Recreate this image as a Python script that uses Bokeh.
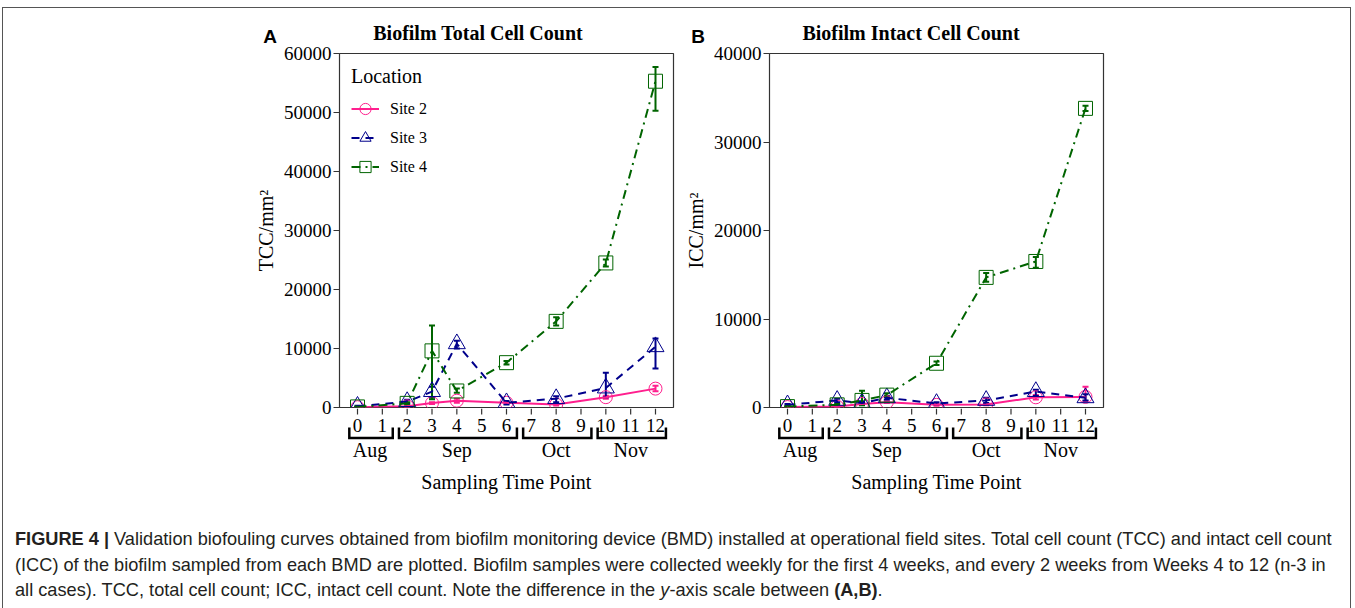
from bokeh.plotting import figure
from bokeh.models import (ColumnDataSource, Whisker, TeeHead, Legend, LegendItem,
                          FixedTicker, Range1d, Div, Spacer)
from bokeh.layouts import row, column
from bokeh.embed import file_html
from bokeh.resources import INLINE
from bokeh.core.properties import value

# ---------------- data ----------------
weeks = [0, 2, 3, 4, 6, 8, 10, 12]
tick_weeks = list(range(13))
months = ["Aug", "Sep", "Oct", "Nov"]
month_start = [0, 2, 7, 10]
month_end = [1, 6, 9, 12]
sites = ["Site 2", "Site 3", "Site 4"]

# Panel A: total cell count (TCC/mm2)
tcc_site2 = [50, 200, 750, 1150, 800, 500, 1750, 3200]
tcc_site2_lo = [0, 100, 600, 800, 650, 350, 1500, 2750]
tcc_site2_hi = [100, 300, 900, 1500, 950, 650, 2000, 3700]
tcc_site3 = [200, 1000, 2700, 10800, 800, 1500, 3300, 10300]
tcc_site3_lo = [100, 700, 1700, 10000, 500, 900, 1750, 6600]
tcc_site3_hi = [300, 1300, 3500, 11300, 1100, 1900, 5900, 11700]
tcc_site4 = [100, 700, 9600, 2800, 7600, 14600, 24500, 55300]
tcc_site4_lo = [50, 500, 1400, 2500, 7300, 13900, 23900, 50300]
tcc_site4_hi = [150, 900, 13900, 3200, 7900, 15300, 25100, 57700]

# Panel B: intact cell count (ICC/mm2)
icc_site2 = [50, 100, 400, 600, 300, 350, 1150, 1200]
icc_site2_lo = [0, 50, 300, 500, 200, 250, 900, 700]
icc_site2_hi = [100, 150, 500, 700, 400, 450, 1400, 2350]
icc_site3 = [300, 800, 500, 1100, 450, 800, 1800, 1100]
icc_site3_lo = [200, 600, 300, 900, 300, 500, 1300, 800]
icc_site3_hi = [400, 1000, 700, 1300, 600, 1100, 2000, 1500]
icc_site4 = [100, 300, 800, 1400, 5000, 14700, 16500, 33800]
icc_site4_lo = [50, 200, 250, 1200, 4800, 14200, 15800, 33500]
icc_site4_hi = [150, 400, 1900, 1600, 5200, 15200, 17000, 34100]

tcc_ticks = [0, 10000, 20000, 30000, 40000, 50000, 60000]
icc_ticks = [0, 10000, 20000, 30000, 40000]

# ---------------- styles ----------------
COLORS = {"Site 2": "#FF1F8E", "Site 3": "#00008B", "Site 4": "#006400"}
DASH = {"Site 2": "solid", "Site 3": "8 6", "Site 4": "9 5 2 5"}
MARKER = {"Site 2": "circle", "Site 3": "triangle", "Site 4": "square"}
MSIZE = {"Site 2": 13, "Site 3": 17, "Site 4": 14}
SERIF = "Liberation Serif"
FW, FH = 334, 354
TOP, BOT, STRIP, OVERLAP = 10, 12, 92, 11
HEAD_H = 25


def make_panel(vals, los, his, ymax, yticks, ylabel, lb, rb, legend):
    W = lb + FW + rb
    p = figure(width=W, height=TOP + FH + BOT,
               x_range=Range1d(-0.725, 12.725), y_range=Range1d(0, ymax),
               output_backend="svg", toolbar_location=None,
               x_axis_location=None,
               min_border_left=lb, min_border_right=rb,
               min_border_top=TOP, min_border_bottom=BOT,
               background_fill_color="white", border_fill_color="white")
    p.xgrid.visible = False
    p.ygrid.visible = False
    p.outline_line_color = "#333333"
    p.outline_line_width = 1.2

    ya = p.yaxis[0]
    ya.ticker = FixedTicker(ticks=yticks)
    ya.axis_line_color = None
    ya.major_tick_out = 6
    ya.major_tick_in = 0
    ya.major_tick_line_color = "#333333"
    ya.minor_tick_line_color = None
    ya.major_label_text_font = SERIF
    ya.major_label_text_font_size = "19px"
    ya.major_label_text_color = "black"
    ya.major_label_standoff = 2
    ya.axis_label = ylabel
    ya.axis_label_text_font = SERIF
    ya.axis_label_text_font_size = "20px"
    ya.axis_label_text_font_style = "normal"
    ya.axis_label_text_color = "black"
    ya.axis_label_standoff = 4

    items = []
    for s, v, lo, hi in zip(sites, vals, los, his):
        src = ColumnDataSource(dict(x=weeks, y=v, lo=lo, hi=hi))
        c = COLORS[s]
        lr = p.line("x", "y", source=src, line_color=c, line_width=2,
                    line_dash=DASH[s])
        w = Whisker(base="x", lower="lo", upper="hi", source=src,
                    dimension="height", line_color=c, line_width=2,
                    lower_head=TeeHead(size=6, line_color=c, line_width=2),
                    upper_head=TeeHead(size=6, line_color=c, line_width=2))
        p.add_layout(w)
        sr = p.scatter("x", "y", source=src, marker=MARKER[s], size=MSIZE[s],
                       fill_color=None, line_color=c, line_width=1)
        items.append(LegendItem(label=s, renderers=[lr, sr]))

    if legend:
        lg = Legend(items=items, location="top_left", title="Location",
                    title_text_font=SERIF, title_text_font_size="20px",
                    title_text_font_style="normal", title_text_color="black",
                    title_standoff=6,
                    label_text_font=SERIF, label_text_font_size="16px",
                    label_text_color="black", label_standoff=11,
                    glyph_width=28, glyph_height=29, label_height=29,
                    spacing=0, padding=13, margin=12,
                    border_line_color=None, background_fill_alpha=0)
        p.add_layout(lg, "center")

    # ---- strip below (overlaps the bottom border of p): ticks, weeks, months, title
    b = figure(width=W, height=STRIP, x_range=p.x_range,
               y_range=Range1d(0, STRIP), output_backend="svg",
               toolbar_location=None, x_axis_location=None,
               y_axis_location=None, min_border_left=lb,
               min_border_right=rb, min_border_top=0, min_border_bottom=0,
               background_fill_alpha=0, border_fill_alpha=0,
               styles={"margin-top": "-%dpx" % OVERLAP})
    b.xgrid.visible = False
    b.ygrid.visible = False
    b.outline_line_color = None
    b.segment(x0=tick_weeks, y0=[STRIP] * 13, x1=tick_weeks, y1=[STRIP - 6] * 13,
              line_color="#333333", line_width=1.2)
    b.text(x=tick_weeks, y=[75] * len(tick_weeks), text=[str(t) for t in tick_weeks],
           text_align="center", text_baseline="middle", text_font=value(SERIF),
           text_font_size="19px", text_color="black")
    xs = [[s - 0.33, s - 0.33, e + 0.42, e + 0.42] for s, e in zip(month_start, month_end)]
    ys = [[73, 62.5, 62.5, 73] for _ in months]
    b.multi_line(xs=xs, ys=ys, line_color="black", line_width=2.5, line_join="miter")
    b.text(x=[(s + e) / 2 for s, e in zip(month_start, month_end)], y=[51] * len(months),
           text=months, text_align="center", text_baseline="middle",
           text_font=value(SERIF), text_font_size="20px", text_color="black")
    b.text(x=[6], y=[19], text=["Sampling Time Point"], text_align="center",
           text_baseline="middle", text_font=value(SERIF), text_font_size="20px",
           text_color="black")
    return column(p, b, spacing=0)


panel_a = make_panel([tcc_site2, tcc_site3, tcc_site4],
                     [tcc_site2_lo, tcc_site3_lo, tcc_site4_lo],
                     [tcc_site2_hi, tcc_site3_hi, tcc_site4_hi],
                     60000, tcc_ticks, "TCC/mm²", 100, 2, True)
panel_b = make_panel([icc_site2, icc_site3, icc_site4],
                     [icc_site2_lo, icc_site3_lo, icc_site4_lo],
                     [icc_site2_hi, icc_site3_hi, icc_site4_hi],
                     40000, icc_ticks, "ICC/mm²", 94, 5, False)


def head(text, left, top, width, font, size):
    return ('<div style="position:absolute;left:%dpx;top:%dpx;width:%dpx;'
            'text-align:center;font-family:%s;font-weight:bold;font-size:%dpx;'
            'line-height:%dpx;color:black;white-space:nowrap;">%s</div>'
            % (left, top, width, font, size, size, text))


header_html = (
    '<div style="position:relative;width:1100px;height:%dpx;">' % HEAD_H
    + head("A", 247, 14, 30, "'Liberation Sans',Arial,sans-serif", 19)
    + head("Biofilm Total Cell Count", 270, 10, 400, "'Liberation Serif',serif", 20)
    + head("B", 675, 14, 30, "'Liberation Sans',Arial,sans-serif", 19)
    + head("Biofilm Intact Cell Count", 703, 10, 400, "'Liberation Serif',serif", 20)
    + '</div>'
)
header = Div(text=header_html, width=1100, height=HEAD_H)

caption_html = (
    '<div style="font-family:\'Liberation Sans\',Arial,sans-serif;'
    'font-size:18.2px;line-height:25.5px;color:#231f20;padding-top:22px;padding-left:7px;'
    'white-space:nowrap;">'
    '<div><b>FIGURE 4 |</b> Validation biofouling curves obtained from biofilm monitoring '
    'device (BMD) installed at operational field sites. Total cell count (TCC) and intact cell count</div>'
    '<div>(ICC) of the biofilm sampled from each BMD are plotted. Biofilm samples were collected '
    'weekly for the first 4 weeks, and every 2 weeks from Weeks 4 to 12 (n-3 in</div>'
    '<div>all cases). TCC, total cell count; ICC, intact cell count. Note the difference in the '
    '<i>y</i>-axis scale between <b>(A,B)</b>.</div>'
    '</div>'
)
caption = Div(text=caption_html, width=1340, height=100)

inner = column(
    header,
    row(Spacer(width=236, height=10), panel_a, panel_b, spacing=0),
    caption,
    spacing=0, width=1349,
    styles={"border-top": "1px solid #555", "border-left": "1px solid #555",
            "border-right": "1px solid #555"},
)
layout = column(Spacer(width=10, height=7),
                row(Spacer(width=2, height=10), inner, spacing=0),
                spacing=0)

open("out.html", "w").write(file_html(layout, INLINE))
